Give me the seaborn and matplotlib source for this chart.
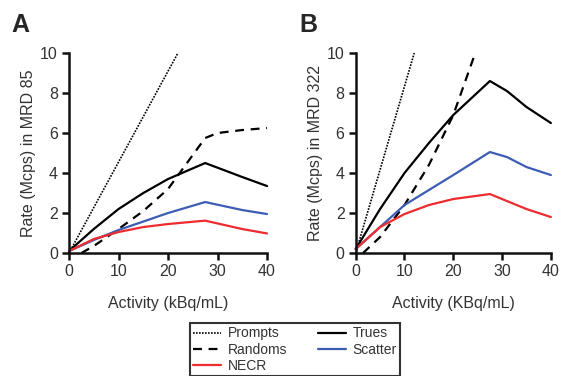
import matplotlib
matplotlib.use("Agg")
import matplotlib.pyplot as plt
import seaborn as sns
import pandas as pd
from matplotlib.lines import Line2D

# ---- data: panel A (MRD 85) ----
a_prompts_x = [0, 22]
a_prompts_y = [0, 10]
a_randoms_x = [2.5, 5, 10, 15, 20, 25, 27.5, 30, 35, 40]
a_randoms_y = [0, 0.35, 1.2, 2.1, 3.2, 4.9, 5.75, 6.0, 6.15, 6.25]
a_trues_x = [0, 5, 10, 15, 20, 27.5, 35, 40]
a_trues_y = [0.1, 1.2, 2.2, 3.0, 3.7, 4.5, 3.8, 3.35]
a_scatter_x = [0, 5, 10, 20, 27.5, 35, 40]
a_scatter_y = [0.1, 0.65, 1.15, 2.0, 2.55, 2.15, 1.95]
a_necr_x = [0, 5, 10, 15, 20, 27.5, 35, 40]
a_necr_y = [0.1, 0.7, 1.05, 1.3, 1.45, 1.62, 1.2, 0.98]

# ---- data: panel B (MRD 322) ----
b_prompts_x = [0, 12]
b_prompts_y = [0, 10]
b_randoms_x = [1.5, 5, 10, 15, 20, 24.5]
b_randoms_y = [0, 0.8, 2.4, 4.4, 6.9, 10]
b_trues_x = [0, 5, 10, 15, 20, 27.5, 31, 35, 40]
b_trues_y = [0.2, 2.2, 4.0, 5.5, 6.9, 8.6, 8.1, 7.3, 6.5]
b_scatter_x = [0, 10, 20, 27.5, 31, 35, 40]
b_scatter_y = [0.2, 2.4, 3.9, 5.05, 4.8, 4.3, 3.9]
b_necr_x = [0, 5, 10, 15, 20, 27.5, 35, 40]
b_necr_y = [0.2, 1.3, 1.95, 2.4, 2.7, 2.95, 2.2, 1.8]

x_ticks = [0, 10, 20, 30, 40]
y_ticks = [0, 2, 4, 6, 8, 10]
series_names = ["Prompts", "Randoms", "NECR", "Trues", "Scatter"]

sns.set_style("ticks")
plt.rcParams['font.family'] = ['Liberation Sans', 'DejaVu Sans']

RED = "#ee2b2f"
BLUE = "#3d5db5"
styles = {
    "Prompts": dict(color="black", linestyle=(0, (1, 0.8)), linewidth=1.2),
    "Randoms": dict(color="black", linestyle=(0, (4, 3)), linewidth=1.6),
    "NECR": dict(color=RED, linestyle="-", linewidth=1.6),
    "Trues": dict(color="black", linestyle="-", linewidth=1.6),
    "Scatter": dict(color=BLUE, linestyle="-", linewidth=1.6),
}

fig = plt.figure(figsize=(5.61, 3.76), dpi=100)
axA = fig.add_axes([0.123, 0.327, 0.353, 0.532])
axB = fig.add_axes([0.634, 0.327, 0.348, 0.532])

panels = [
    (axA, {"Prompts": (a_prompts_x, a_prompts_y), "Randoms": (a_randoms_x, a_randoms_y),
           "NECR": (a_necr_x, a_necr_y), "Trues": (a_trues_x, a_trues_y),
           "Scatter": (a_scatter_x, a_scatter_y)},
     "Rate (Mcps) in MRD 85", "Activity (kBq/mL)", "A"),
    (axB, {"Prompts": (b_prompts_x, b_prompts_y), "Randoms": (b_randoms_x, b_randoms_y),
           "NECR": (b_necr_x, b_necr_y), "Trues": (b_trues_x, b_trues_y),
           "Scatter": (b_scatter_x, b_scatter_y)},
     "Rate (Mcps) in MRD 322", "Activity (KBq/mL)", "B"),
]

for ax, data, ylab, xlab, letter in panels:
    for name in ["Prompts", "Randoms", "Trues", "Scatter", "NECR"]:
        xs, ys = data[name]
        df = pd.DataFrame({"x": xs, "y": ys})
        sns.lineplot(data=df, x="x", y="y", ax=ax, sort=False, legend=False,
                     estimator=None, clip_on=False, **styles[name])
    ax.set_xlim(0, 40)
    ax.set_ylim(0, 10)
    ax.set_xticks(x_ticks)
    ax.set_yticks(y_ticks)
    ax.set_xlabel(xlab, fontsize=11.5, color="#333333", labelpad=12)
    ax.set_ylabel(ylab, fontsize=11.5, color="#333333", labelpad=3)
    ax.tick_params(axis="both", labelsize=11.5, width=1.8, length=5, colors="#111111",
                   labelcolor="#333333", pad=3)
    sns.despine(ax=ax)
    for sp in ["left", "bottom"]:
        ax.spines[sp].set_linewidth(1.8)
        ax.spines[sp].set_color("#111111")
    ax.text(-0.29, 1.08, letter, transform=ax.transAxes, fontsize=18,
            fontweight="bold", va="bottom", ha="left")

handles = [Line2D([0], [0], **styles[n]) for n in series_names]
leg = fig.legend(handles, series_names, ncol=2, loc="upper center",
                 bbox_to_anchor=(0.526, 0.141), frameon=True, fancybox=False,
                 fontsize=10, handlelength=2.0, columnspacing=2.2,
                 labelspacing=0.15, borderpad=0.25, handletextpad=0.5,
                 borderaxespad=0)
leg.get_frame().set_edgecolor("black")
leg.get_frame().set_linewidth(1.5)
for t in leg.get_texts():
    t.set_color("#333333")

fig.savefig("out.png", dpi=100)
